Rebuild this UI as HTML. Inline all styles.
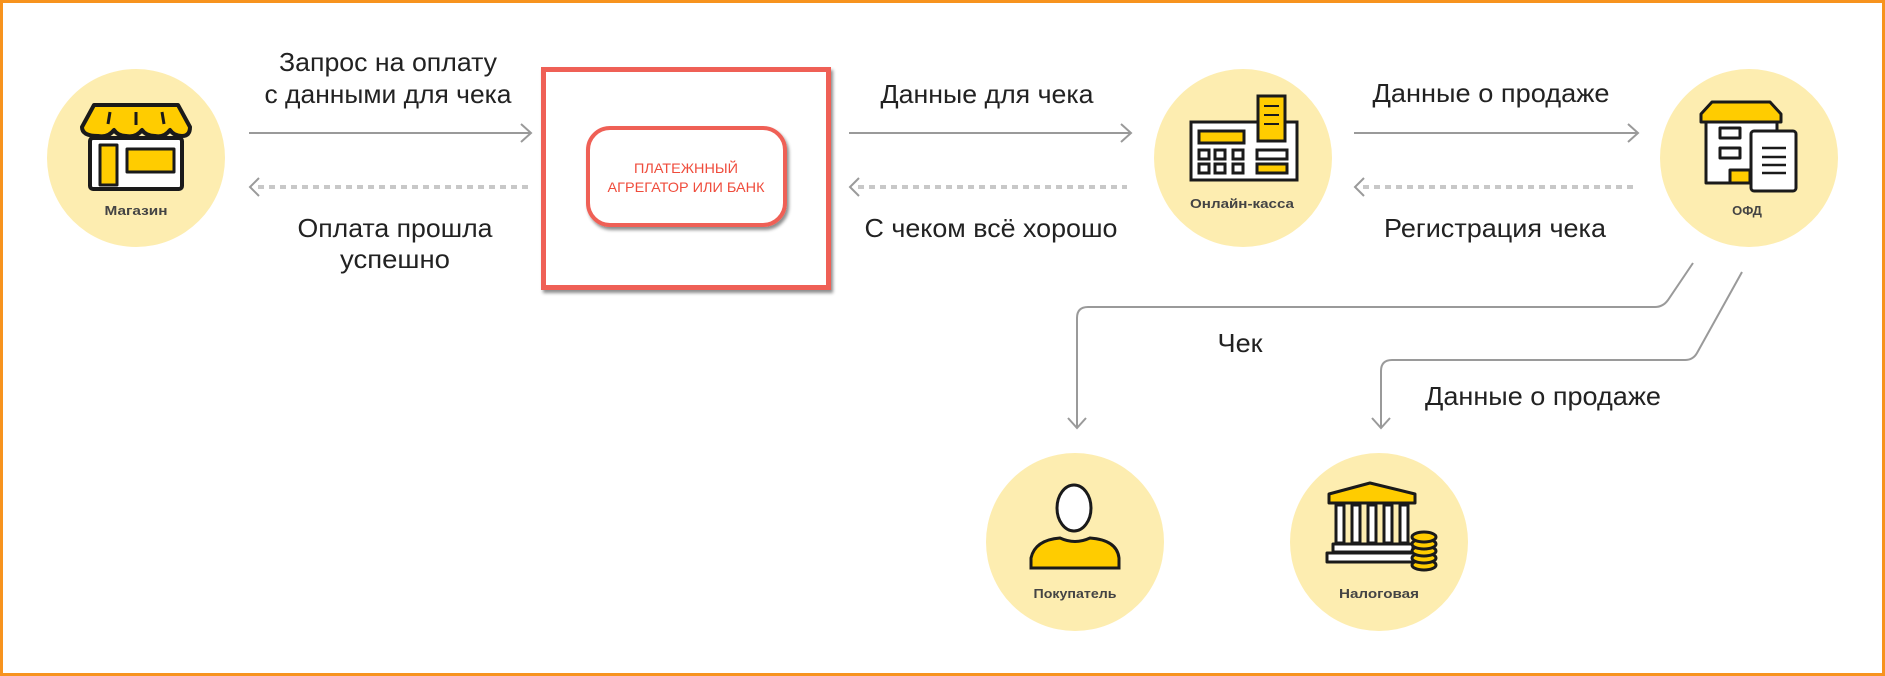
<!DOCTYPE html>
<html><head><meta charset="utf-8"><style>
html,body{margin:0;padding:0;background:#fff;}
svg{display:block;}
text{font-family:"Liberation Sans","Noto Sans CJK SC",sans-serif;}
</style></head><body>
<svg width="1885" height="676" viewBox="0 0 1885 676" xmlns="http://www.w3.org/2000/svg">
<defs>
<filter id="sh" x="-10%" y="-10%" width="120%" height="120%"><feDropShadow dx="2" dy="3" stdDeviation="1.5" flood-color="#000" flood-opacity="0.45"/></filter>
</defs>
<rect x="1.5" y="1.5" width="1882" height="673" fill="#fff" stroke="#f7931e" stroke-width="3"/>

<!-- circles -->
<g fill="#fdedb0">
<circle cx="136" cy="158" r="89"/>
<circle cx="1243" cy="158" r="89"/>
<circle cx="1749" cy="158" r="89"/>
<circle cx="1075" cy="542" r="89"/>
<circle cx="1379" cy="542" r="89"/>
</g>

<!-- arrows -->
<g stroke="#9a9a9a" stroke-width="2" fill="none">
<line x1="249" y1="133" x2="530" y2="133"/><polyline points="521,124 531,133 521,142"/>
<line x1="849" y1="133" x2="1130" y2="133"/><polyline points="1121,124 1131,133 1121,142"/>
<line x1="1354" y1="133" x2="1637" y2="133"/><polyline points="1628,124 1638,133 1628,142"/>
<polyline points="259,178 250,187 259,196"/>
<polyline points="859,178 850,187 859,196"/>
<polyline points="1364,178 1355,187 1364,196"/>
<path d="M1693,263 L1668,300 Q1663,307 1655,307 L1088,307 Q1077,307 1077,318 L1077,428"/>
<polyline points="1068,418 1077,428 1086,418"/>
<path d="M1742,272 L1697,353 Q1693,360 1685,360 L1392,360 Q1381,360 1381,371 L1381,428"/>
<polyline points="1372,418 1381,428 1390,418"/>
</g>
<g stroke="#c8c8c8" stroke-width="4" stroke-dasharray="6,5" fill="none">
<line x1="258" y1="187" x2="531" y2="187"/>
<line x1="858" y1="187" x2="1127" y2="187"/>
<line x1="1363" y1="187" x2="1634" y2="187"/>
</g>

<!-- labels -->
<g fill="#222" font-size="26">
<text x="388" y="71" text-anchor="middle" textLength="218" lengthAdjust="spacingAndGlyphs">Запрос на оплату</text>
<text x="388" y="103" text-anchor="middle" textLength="247" lengthAdjust="spacingAndGlyphs">с данными для чека</text>
<text x="395" y="237" text-anchor="middle" textLength="195" lengthAdjust="spacingAndGlyphs">Оплата прошла</text>
<text x="395" y="268" text-anchor="middle" textLength="110" lengthAdjust="spacingAndGlyphs">успешно</text>
<text x="987" y="103" text-anchor="middle" textLength="213" lengthAdjust="spacingAndGlyphs">Данные для чека</text>
<text x="991" y="237" text-anchor="middle" textLength="253" lengthAdjust="spacingAndGlyphs">С чеком всё хорошо</text>
<text x="1491" y="102" text-anchor="middle" textLength="237" lengthAdjust="spacingAndGlyphs">Данные о продаже</text>
<text x="1495" y="237" text-anchor="middle" textLength="222" lengthAdjust="spacingAndGlyphs">Регистрация чека</text>
<text x="1240" y="352" text-anchor="middle" textLength="45" lengthAdjust="spacingAndGlyphs">Чек</text>
<text x="1543" y="405" text-anchor="middle" textLength="236" lengthAdjust="spacingAndGlyphs">Данные о продаже</text>
</g>
<g fill="#444" font-size="13" font-weight="bold" text-anchor="middle">
<text x="136" y="215" textLength="63" lengthAdjust="spacingAndGlyphs">Магазин</text>
<text x="1242" y="208" textLength="104" lengthAdjust="spacingAndGlyphs">Онлайн-касса</text>
<text x="1747" y="215">ОФД</text>
<text x="1075" y="598" textLength="83" lengthAdjust="spacingAndGlyphs">Покупатель</text>
<text x="1379" y="598" textLength="80" lengthAdjust="spacingAndGlyphs">Налоговая</text>
</g>

<!-- red box -->
<rect x="543.5" y="69.5" width="285" height="218" fill="#fff" stroke="#ef6056" stroke-width="5" filter="url(#sh)"/>
<rect x="588" y="128" width="197" height="97" rx="22" fill="#fff" stroke="#ef6056" stroke-width="4" filter="url(#sh)"/>
<g fill="#ef4c3c" font-size="14" text-anchor="middle">
<text x="686" y="173" textLength="104" lengthAdjust="spacingAndGlyphs">ПЛАТЕЖННЫЙ</text>
<text x="686" y="192" textLength="157" lengthAdjust="spacingAndGlyphs">АГРЕГАТОР ИЛИ БАНК</text>
</g>

<!-- shop icon -->
<g stroke="#1a1a1a" stroke-width="4" stroke-linejoin="round">
<rect x="90" y="138" width="92" height="51" rx="3" fill="#fff"/>
<rect x="100" y="145" width="17" height="40" fill="#ffcc00" stroke-width="3"/>
<rect x="127" y="149" width="47" height="23" fill="#ffcc00" stroke-width="3"/>
<path d="M94,105 L178,105 L190,127 Q190,136 182,136 Q174,136 170,130 Q164,138 155,136 Q146,136 142,130 Q136,138 126,136 Q118,136 114,130 Q108,138 98,136 Q82,136 82,127 Z" fill="#ffcc00"/>
<line x1="110" y1="112" x2="108" y2="124" stroke-width="3"/>
<line x1="136" y1="112" x2="136" y2="125" stroke-width="3"/>
<line x1="162" y1="112" x2="164" y2="124" stroke-width="3"/>
</g>

<!-- kassa icon -->
<g stroke="#1a1a1a" stroke-width="3">
<rect x="1191" y="122" width="106" height="58" fill="#fff"/>
<rect x="1258" y="96" width="27" height="45" fill="#ffcc00"/>
<rect x="1199" y="131" width="45" height="12" fill="#ffcc00"/>
<g fill="#fff">
<rect x="1199" y="150" width="10" height="9"/><rect x="1215" y="150" width="10" height="9"/><rect x="1233" y="150" width="10" height="9"/>
<rect x="1199" y="164" width="10" height="9"/><rect x="1215" y="164" width="10" height="9"/><rect x="1233" y="164" width="10" height="9"/>
<rect x="1257" y="150" width="30" height="9"/>
</g>
<rect x="1257" y="164" width="30" height="9" fill="#ffcc00"/>
</g>
<g stroke="#1a1a1a" stroke-width="2"><line x1="1264" y1="106" x2="1279" y2="106"/><line x1="1264" y1="115" x2="1279" y2="115"/><line x1="1264" y1="124" x2="1279" y2="124"/></g>

<!-- ofd icon -->
<g stroke="#1a1a1a" stroke-width="3" stroke-linejoin="round">
<rect x="1706" y="122" width="71" height="61" fill="#fff"/>
<path d="M1701,122 L1701,114 L1712,102 L1770,102 L1781,114 L1781,122 Z" fill="#ffcc00"/>
<rect x="1720" y="128" width="20" height="10" fill="#fff"/>
<rect x="1720" y="148" width="20" height="10" fill="#fff"/>
<rect x="1730" y="170" width="20" height="13" fill="#ffcc00"/>
<rect x="1751" y="131" width="45" height="60" rx="3" fill="#fff"/>
<g stroke-width="2.5"><line x1="1762" y1="148" x2="1786" y2="148"/><line x1="1762" y1="157" x2="1786" y2="157"/><line x1="1762" y1="165" x2="1786" y2="165"/><line x1="1762" y1="173" x2="1786" y2="173"/></g>
</g>

<!-- person icon -->
<g stroke="#1a1a1a" stroke-width="3">
<ellipse cx="1074" cy="508" rx="17" ry="23" fill="#fff"/>
<path d="M1031,568 L1031,558 Q1035,540 1060,538 Q1075,545 1090,538 Q1117,540 1119,558 L1119,568 Z" fill="#ffcc00"/>
</g>

<!-- bank icon -->
<g stroke="#1a1a1a" stroke-width="3" stroke-linejoin="round">
<path d="M1329,503 L1329,494 L1370,483 L1415,494 L1415,503 Z" fill="#ffcc00"/>
<g fill="#fff"><rect x="1336" y="505" width="8" height="38"/><rect x="1352" y="505" width="8" height="38"/><rect x="1368" y="505" width="8" height="38"/><rect x="1384" y="505" width="8" height="38"/><rect x="1400" y="505" width="8" height="38"/>
<rect x="1333" y="544" width="80" height="8"/><rect x="1327" y="553" width="90" height="9"/></g>
<g fill="#ffcc00"><ellipse cx="1424" cy="565" rx="12" ry="5"/><ellipse cx="1424" cy="558" rx="12" ry="5"/><ellipse cx="1424" cy="551" rx="12" ry="5"/><ellipse cx="1424" cy="544" rx="12" ry="5"/><ellipse cx="1424" cy="537" rx="12" ry="5"/></g>
</g>
</svg>
</body></html>
